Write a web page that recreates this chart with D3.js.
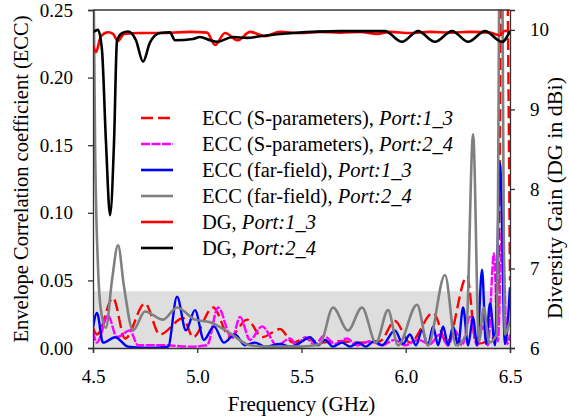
<!DOCTYPE html>
<html>
<head>
<meta charset="utf-8">
<script src="https://cdnjs.cloudflare.com/ajax/libs/d3/7.8.5/d3.min.js"></script>
<style>
  body { margin: 0; background: #fff; }
  svg { font-family: "Liberation Serif", "Times New Roman", serif; }
  .axis text { font-family: "Liberation Serif", "Times New Roman", serif; font-size: 19px; fill: #000; }
  .axis path, .axis line { stroke: #333; stroke-width: 1.3; }
</style>
</head>
<body>
<svg id="chart" width="569" height="419"></svg>
<script>
//============================================================
// Data
//------------------------------------------------------------

var xTicks = [4.5, 5.0, 5.5, 6.0, 6.5];
var eccTicks = [0, 0.05, 0.10, 0.15, 0.20, 0.25];
var dgTicks = [6, 7, 8, 9, 10];
var shadeLevel = 0.042;

// ECC (S-parameters), Port 1_3
var eccS13F = [4.500, 4.519, 4.596, 4.654, 4.749, 4.821, 4.932, 4.980, 5.076, 5.157, 5.239, 5.311, 5.397, 5.459, 5.517, 5.589, 5.685, 5.781, 5.877, 5.948, 6.020, 6.131, 6.198, 6.294, 6.338, 6.404, 6.440, 6.470, 6.500];
var eccS13V = [0.015, 0.010, 0.037, 0.007, 0.033, 0.010, 0.022, 0.008, 0.030, 0.008, 0.021, 0.008, 0.014, 0.004, 0.007, 0.004, 0.005, 0.004, 0.005, 0.020, 0.004, 0.026, 0.004, 0.053, 0.003, 0.006, 0.010, 0.450, 0.050];

// ECC (S-parameters), Port 2_4
var eccS24F = [4.500, 4.519, 4.572, 4.615, 4.677, 4.716, 4.845, 4.965, 5.047, 5.100, 5.167, 5.205, 5.253, 5.311, 5.383, 5.445, 5.478, 5.517, 5.565, 5.606, 5.661, 5.718, 5.766, 5.829, 5.886, 5.948, 5.996, 6.059, 6.116, 6.164, 6.203, 6.236, 6.270, 6.308, 6.342, 6.371, 6.394, 6.423, 6.442, 6.462, 6.486, 6.500];
var eccS24V = [0.012, 0.004, 0.024, 0.008, 0.013, 0.002, 0.002, 0.001, 0.002, 0.030, 0.007, 0.023, 0.006, 0.016, 0.002, 0.007, 0.002, 0.008, 0.002, 0.009, 0.003, 0.007, 0.002, 0.005, 0.002, 0.006, 0.002, 0.006, 0.003, 0.010, 0.002, 0.013, 0.002, 0.023, 0.002, 0.016, 0.002, 0.070, 0.005, 0.090, 0.003, 0.010];

// ECC (far-field), Port 1_3
var eccF13F = [4.500, 4.519, 4.548, 4.606, 4.668, 4.773, 4.860, 4.903, 4.946, 4.989, 5.032, 5.080, 5.128, 5.181, 5.229, 5.277, 5.325, 5.397, 5.445, 5.493, 5.541, 5.579, 5.613, 5.651, 5.694, 5.733, 5.771, 5.809, 5.848, 5.886, 5.948, 5.987, 6.020, 6.049, 6.078, 6.107, 6.131, 6.155, 6.179, 6.203, 6.227, 6.251, 6.275, 6.299, 6.323, 6.342, 6.366, 6.385, 6.404, 6.428, 6.452, 6.476, 6.500];
var eccF13V = [0.015, 0.026, 0.004, 0.008, 0.001, 0.000, 0.001, 0.038, 0.013, 0.028, 0.006, 0.016, 0.004, 0.010, 0.002, 0.004, 0.001, 0.003, 0.001, 0.004, 0.008, 0.002, 0.006, 0.001, 0.004, 0.001, 0.004, 0.001, 0.005, 0.002, 0.013, 0.003, 0.010, 0.002, 0.013, 0.002, 0.016, 0.002, 0.016, 0.002, 0.016, 0.002, 0.030, 0.002, 0.023, 0.002, 0.058, 0.003, 0.033, 0.002, 0.137, 0.003, 0.045];

// ECC (far-field), Port 2_4
var eccF24F = [4.500, 4.510, 4.524, 4.538, 4.562, 4.591, 4.620, 4.649, 4.692, 4.749, 4.836, 4.903, 4.989, 5.061, 5.157, 5.253, 5.349, 5.493, 5.589, 5.651, 5.723, 5.790, 5.857, 5.915, 5.963, 6.054, 6.107, 6.188, 6.241, 6.290, 6.323, 6.351, 6.374, 6.400, 6.436, 6.456, 6.476, 6.490, 6.500];
var eccF24V = [0.320, 0.150, 0.060, 0.028, 0.015, 0.050, 0.076, 0.045, 0.013, 0.027, 0.021, 0.030, 0.021, 0.019, 0.011, 0.002, 0.001, 0.001, 0.003, 0.030, 0.013, 0.030, 0.004, 0.028, 0.002, 0.032, 0.002, 0.054, 0.002, 0.010, 0.158, 0.005, 0.030, 0.004, 0.010, 0.400, 0.010, 0.015, 0.020];

// DG, Port 1_3 (dBi)
var dg13F = [4.500, 4.514, 4.538, 4.572, 4.596, 4.620, 4.649, 4.725, 4.821, 4.965, 5.047, 5.085, 5.133, 5.195, 5.253, 5.325, 5.397, 5.493, 5.589, 5.685, 5.781, 5.862, 5.924, 6.020, 6.116, 6.212, 6.308, 6.404, 6.452, 6.476, 6.500];
var dg13V = [9.81, 9.72, 9.92, 9.97, 9.95, 9.86, 9.95, 9.96, 9.96, 9.975, 9.965, 9.81, 9.96, 9.87, 9.975, 9.92, 9.975, 9.96, 9.975, 9.965, 9.975, 9.95, 9.975, 9.96, 9.975, 9.965, 9.975, 9.965, 9.93, 9.99, 9.98];

// DG, Port 2_4 (dBi)
var dg24F = [4.500, 4.524, 4.543, 4.562, 4.582, 4.601, 4.615, 4.639, 4.668, 4.706, 4.740, 4.773, 4.821, 4.869, 4.893, 4.980, 5.013, 5.061, 5.095, 5.171, 5.239, 5.301, 5.459, 5.685, 5.900, 5.982, 6.059, 6.140, 6.222, 6.299, 6.380, 6.462, 6.500];
var dg24V = [9.97, 10.00, 9.75, 8.60, 7.67, 8.60, 9.86, 9.96, 9.98, 9.87, 9.60, 9.84, 9.96, 9.97, 9.87, 9.885, 9.91, 9.87, 9.85, 9.91, 9.90, 9.92, 9.96, 9.985, 9.985, 9.85, 9.985, 9.85, 9.985, 9.85, 9.985, 9.85, 9.985];

var legendLabels = [
    ["ECC (S-parameters), ", "Port:1_3"],
    ["ECC (S-parameters), ", "Port:2_4"],
    ["ECC (far-field), ", "Port:1_3"],
    ["ECC (far-field), ", "Port:2_4"],
    ["DG, ", "Port:1_3"],
    ["DG, ", "Port:2_4"]
];

//============================================================
// Layout
//------------------------------------------------------------

var margin = {top: 10, right: 59, bottom: 71, left: 93}
  , width = 569 - margin.left - margin.right
  , height = 419 - margin.top - margin.bottom;

var svg = d3.select("#chart");
var g = svg.append("g").attr("transform", "translate(" + margin.left + "," + margin.top + ")");

var x = d3.scaleLinear().domain([4.5, 6.5]).range([0, width]);
var yL = d3.scaleLinear().domain([0, 0.25]).range([height, 0]);
var yR = d3.scaleLinear().domain([6, 10.25]).range([height, 0]);

svg.append("defs").append("clipPath").attr("id", "plotclip")
  .append("rect").attr("width", width).attr("height", height);

// shaded acceptable-ECC band
g.append("rect")
  .attr("x", 0)
  .attr("y", yL(shadeLevel))
  .attr("width", width)
  .attr("height", yL(0) - yL(shadeLevel))
  .attr("fill", "#dedede");

//------------------------------------------------------------
// Series

function zip(fs, vs) {
    return fs.map(function (f, i) { return [f, vs[i]]; });
}

var series = [
    {data: zip(eccS13F, eccS13V), axis: yL, color: "#ff0000", dash: "12,5", width: 2.4},
    {data: zip(eccS24F, eccS24V), axis: yL, color: "#ff00ff", dash: "9,1.5", width: 2.4},
    {data: zip(eccF13F, eccF13V), axis: yL, color: "#0000ff", dash: null, width: 2.4},
    {data: zip(eccF24F, eccF24V), axis: yL, color: "#808080", dash: null, width: 2.6},
    {data: zip(dg13F, dg13V), axis: yR, color: "#ff0000", dash: null, width: 2.6},
    {data: zip(dg24F, dg24V), axis: yR, color: "#000000", dash: null, width: 2.6}
];

var plot = g.append("g").attr("clip-path", "url(#plotclip)");

series.forEach(function (s) {
    var line = d3.line()
      .x(function (d) { return x(d[0]); })
      .y(function (d) { return s.axis(d[1]); })
      .curve(d3.curveMonotoneX);

    plot.append("path")
      .datum(s.data)
      .attr("fill", "none")
      .attr("stroke", s.color)
      .attr("stroke-width", s.width)
      .attr("stroke-dasharray", s.dash)
      .attr("stroke-linejoin", "round")
      .attr("d", line);
});

//------------------------------------------------------------
// Axes

g.append("g")
  .attr("class", "axis")
  .attr("transform", "translate(0," + height + ")")
  .call(d3.axisBottom(x).tickValues(xTicks).tickFormat(d3.format(".1f")).tickSizeOuter(0).tickSize(5).tickPadding(17));

g.append("g")
  .attr("class", "axis")
  .call(d3.axisLeft(yL).tickValues(eccTicks).tickFormat(d3.format(".2f")).tickSizeOuter(0).tickSize(5).tickPadding(15));

g.append("g")
  .attr("class", "axis")
  .attr("transform", "translate(" + width + ",0)")
  .call(d3.axisRight(yR).tickValues(dgTicks).tickFormat(d3.format("d")).tickSizeOuter(0).tickSize(5).tickPadding(15));

// top border
g.append("line")
  .attr("x1", 0).attr("x2", width)
  .attr("y1", 0).attr("y2", 0)
  .attr("stroke", "#333").attr("stroke-width", 1.3);

//------------------------------------------------------------
// Axis titles

svg.append("text")
  .attr("x", margin.left + width / 2)
  .attr("y", 411)
  .attr("text-anchor", "middle")
  .style("font-size", "21px")
  .text("Frequency (GHz)");

svg.append("text")
  .attr("transform", "translate(28," + (margin.top + height / 2) + ") rotate(-90)")
  .attr("text-anchor", "middle")
  .style("font-size", "20.5px")
  .text("Envelope Correlation coefficient (ECC)");

svg.append("text")
  .attr("transform", "translate(562,198) rotate(-90)")
  .attr("text-anchor", "middle")
  .style("font-size", "22px")
  .text("Diversity Gain (DG in dBi)");

//------------------------------------------------------------
// Legend

var legend = svg.append("g").attr("transform", "translate(141,118)");

var item = legend.selectAll("g.item")
  .data(series)
  .enter().append("g")
  .attr("class", "item")
  .attr("transform", function (d, i) { return "translate(0," + (i * 26) + ")"; });

item.append("line")
  .attr("x1", 0).attr("x2", 32)
  .attr("stroke", function (d) { return d.color; })
  .attr("stroke-width", 2.6)
  .attr("stroke-dasharray", function (d) { return d.dash; });

var label = item.append("text")
  .attr("x", 61)
  .attr("dy", "0.33em")
  .style("font-size", "20.5px");

label.append("tspan").text(function (d, i) { return legendLabels[i][0]; });
label.append("tspan").style("font-style", "italic").text(function (d, i) { return legendLabels[i][1]; });
</script>
</body>
</html>
